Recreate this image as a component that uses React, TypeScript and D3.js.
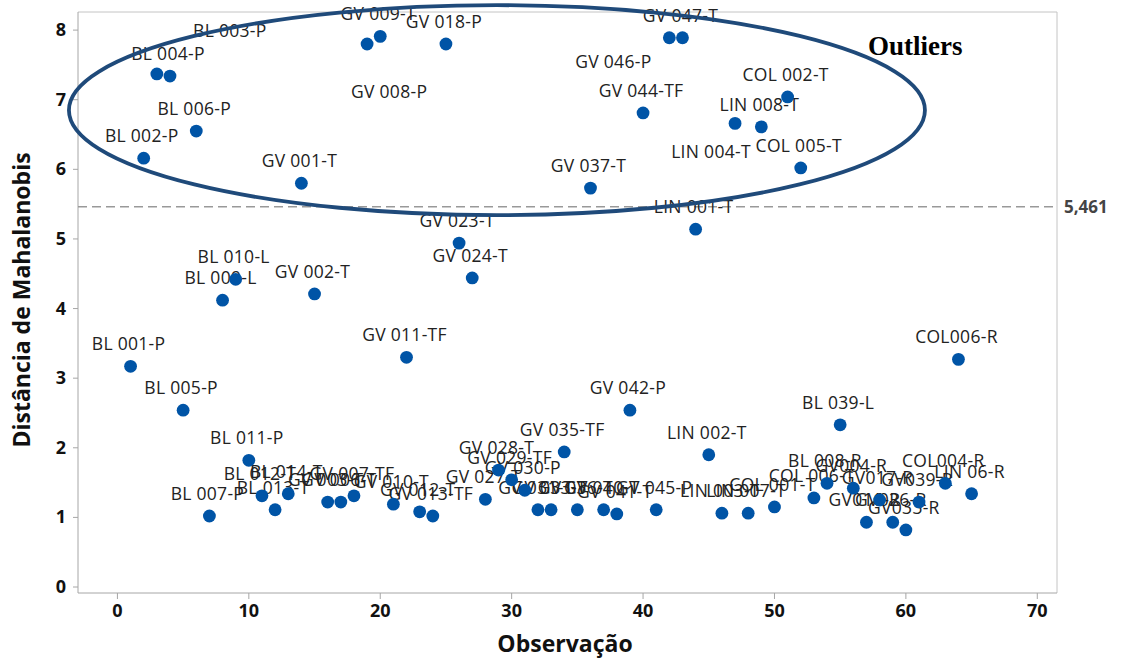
import React from 'react';
import * as d3 from 'd3';

// ---- data ----
const observations = [
  1, 2, 3, 4, 5, 6, 7, 8, 9, 10, 11, 12, 13, 14, 15, 16, 17, 18, 19, 20,
  21, 22, 23, 24, 25, 26, 27, 28, 29, 30, 31, 32, 33, 34, 35, 36, 37, 38, 39, 40,
  41, 42, 43, 44, 45, 46, 47, 48, 49, 50, 51, 52, 53, 54, 55, 56, 57, 58, 59, 60,
  61, 63, 64, 65,
];
const distances = [
  3.17, 6.16, 7.37, 7.34, 2.54, 6.55, 1.02, 4.12, 4.42, 1.82, 1.31, 1.11, 1.34, 5.80, 4.21, 1.22, 1.22, 1.31, 7.80, 7.91,
  1.19, 3.30, 1.08, 1.02, 7.80, 4.94, 4.44, 1.26, 1.68, 1.54, 1.39, 1.11, 1.11, 1.94, 1.11, 5.73, 1.11, 1.05, 2.54, 6.81,
  1.11, 7.89, 7.89, 5.14, 1.90, 1.06, 6.66, 1.06, 6.61, 1.15, 7.04, 6.02, 1.28, 1.49, 2.33, 1.42, 0.93, 1.25, 0.93, 0.82,
  1.22, 1.49, 3.27, 1.34,
];
const pointLabels = [
  'BL 001-P', 'BL 002-P', 'BL 003-P', 'BL 004-P', 'BL 005-P', 'BL 006-P', 'BL 007-P', 'BL 009-L', 'BL 010-L', 'BL 011-P',
  'BL 012-T', 'BL 013-T', 'BL 014-T', 'GV 001-T', 'GV 002-T', 'GV 003-T', 'GV 006-T', 'GV 007-TF', 'GV 008-P', 'GV 009-T',
  'GV 010-T', 'GV 011-TF', 'GV 012-T', 'GV 013-TF', 'GV 018-P', 'GV 023-T', 'GV 024-T', 'GV 027-T', 'GV 028-T', 'GV 029-TF',
  'GV 030-P', 'GV 031-T', 'GV 033-T', 'GV 035-TF', 'GV 036-T', 'GV 037-T', 'GV 040-T', 'GV 041-T', 'GV 042-P', 'GV 044-TF',
  'GV 045-P', 'GV 046-P', 'GV 047-T', 'LIN 001-T', 'LIN 002-T', 'LIN 003-T', 'LIN 004-T', 'LIN 007-T', 'LIN 008-T', 'COL 001-T',
  'COL 002-T', 'COL 005-T', 'COL 006-T', 'BL 008-R', 'BL 039-L', 'GV004-R', 'GV016-R', 'GV017-R', 'GV026-R', 'GV033-R',
  'GV039-R', 'COL004-R', 'COL006-R', 'LIN 06-R',
];
const xTicks = [0, 10, 20, 30, 40, 50, 60, 70];
const yTicks = [0, 1, 2, 3, 4, 5, 6, 7, 8];
const threshold = 5.461;
const thresholdLabel = '5,461';
const xTitle = 'Observação';
const yTitle = 'Distância de Mahalanobis';
const annotationText = 'Outliers';
// ellipse around the outliers, in data units
const ellipseCenter = [28.88, 6.85];
const ellipseRadii = [32.57, 1.508];

// ---- layout (label placement adjustments, px) ----
const labelNudges: Record<string, [number, number]> = {
  'BL 003-P': [75, -21],
  'GV 008-P': [24, 70],
  'GV 046-P': [-54, 46],
  'LIN 004-T': [-22, 51],
};

const W = 1125;
const H = 661;
const left = 78;
const right = 1057;
const top = 12;
const bottom = 593;

const FONT = '"Open Sans", "Noto Sans", sans-serif';

export default function App() {
  const x = d3.scaleLinear().domain([-3, 71.5]).range([left, right]);
  const y = d3.scaleLinear().domain([-0.086, 8.26]).range([bottom, top]);

  const points = observations.map((o, i) => ({ o, v: distances[i], label: pointLabels[i] }));

  const ecx = x(ellipseCenter[0]);
  const ecy = y(ellipseCenter[1]);
  const erx = x(ellipseCenter[0] + ellipseRadii[0]) - ecx;
  const ery = ecy - y(ellipseCenter[1] + ellipseRadii[1]);

  return (
    <svg
      width={W}
      height={H}
      style={{ position: 'absolute', left: 0, top: 0, background: '#fff' }}
    >
      <rect x={0} y={0} width={W} height={H} fill="#fff" />
      {/* frame */}
      <line x1={left} x2={right} y1={top} y2={top} stroke="#c4c4c4" strokeWidth={1} />
      <line x1={right} x2={right} y1={top} y2={bottom} stroke="#c4c4c4" strokeWidth={1} />
      <line x1={left} x2={left} y1={top} y2={bottom} stroke="#a6a6a6" strokeWidth={1} />
      <line x1={left} x2={right} y1={bottom} y2={bottom} stroke="#a6a6a6" strokeWidth={1} />

      {/* y ticks */}
      {yTicks.map((t) => (
        <g key={'y' + t}>
          <line x1={left - 5} x2={left} y1={y(t)} y2={y(t)} stroke="#a6a6a6" />
          <text
            x={left - 12}
            y={y(t) + 6}
            textAnchor="end"
            fontFamily={FONT}
            fontWeight={700}
            fontSize={18}
            fill="#111"
          >
            {t}
          </text>
        </g>
      ))}

      {/* x ticks */}
      {xTicks.map((t) => (
        <g key={'x' + t}>
          <line x1={x(t)} x2={x(t)} y1={bottom} y2={bottom + 6} stroke="#a6a6a6" />
          <text
            x={x(t)}
            y={bottom + 24}
            textAnchor="middle"
            fontFamily={FONT}
            fontWeight={700}
            fontSize={18}
            fill="#111"
          >
            {t}
          </text>
        </g>
      ))}

      {/* axis titles */}
      <text
        x={565}
        y={652}
        textAnchor="middle"
        fontFamily={FONT}
        fontWeight={700}
        fontSize={23}
        fill="#111"
      >
        {xTitle}
      </text>
      <text
        transform={`translate(30, ${300}) rotate(-90)`}
        textAnchor="middle"
        fontFamily={FONT}
        fontWeight={700}
        fontSize={23}
        fill="#111"
      >
        {yTitle}
      </text>

      {/* threshold */}
      <line
        x1={left}
        x2={right}
        y1={y(threshold)}
        y2={y(threshold)}
        stroke="#999"
        strokeWidth={1.5}
        strokeDasharray="9 5"
      />
      <text
        x={right + 7}
        y={y(threshold) + 6}
        fontFamily={FONT}
        fontWeight={700}
        fontSize={17}
        fill="#444"
      >
        {thresholdLabel}
      </text>

      {/* labels */}
      {points.map((p) => {
        const n = labelNudges[p.label] || [0, 0];
        return (
          <text
            key={'l' + p.o}
            x={x(p.o) - 2 + n[0]}
            y={y(p.v) - 16 + n[1]}
            textAnchor="middle"
            fontFamily={FONT}
            fontSize={17.5}
            letterSpacing={0.3}
            fill="#222"
          >
            {p.label}
          </text>
        );
      })}

      {/* points */}
      {points.map((p) => (
        <circle key={'c' + p.o} cx={x(p.o)} cy={y(p.v)} r={6.4} fill="#0054a6" />
      ))}

      {/* ellipse annotation */}
      <ellipse cx={ecx} cy={ecy} rx={erx} ry={ery} fill="none" stroke="#1f4a7a" strokeWidth={3.8} />
      <text
        x={868}
        y={55}
        fontFamily='"Liberation Serif", "Times New Roman", serif'
        fontWeight={700}
        fontSize={27}
        fill="#000"
      >
        {annotationText}
      </text>
    </svg>
  );
}
